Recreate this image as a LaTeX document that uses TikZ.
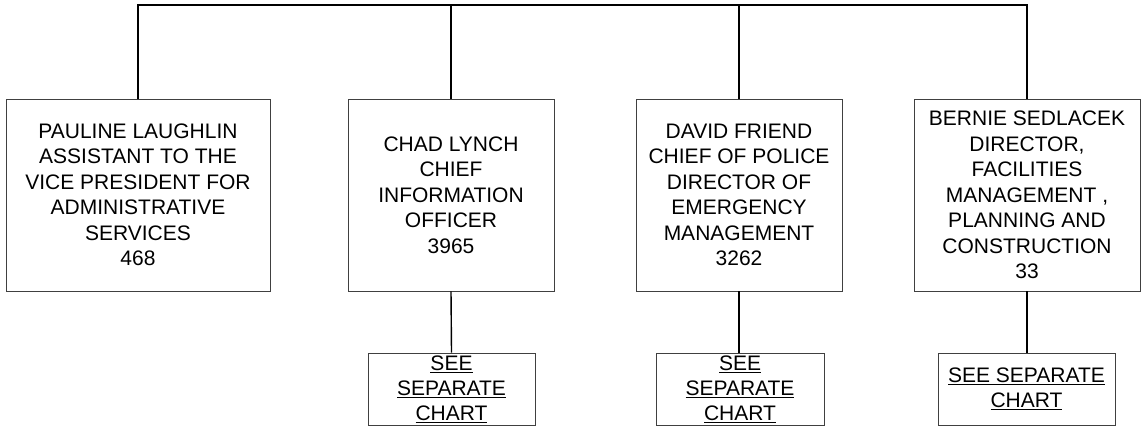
\documentclass[tikz,border=0pt]{standalone}
\usepackage{fontspec}
\setmainfont{Liberation Sans}

\tikzset{
	person/.style={draw=black!75,line width=0.8pt,align=center,inner sep=0,minimum height=192pt,font=\fontsize{21}{25.5}\selectfont},
	chart/.style={draw=black!75,line width=0.8pt,align=center,inner sep=0,minimum height=72pt,font=\fontsize{21}{25}\selectfont},
	link/.style={line width=1.4pt}
}

\begin{document}
\begin{tikzpicture}[x=1pt,y=-1pt]
	\useasboundingbox (0,0) rectangle (1142,426);
	\node[person,minimum width=264pt] (1) at (138,195) {PAULINE LAUGHLIN\\ASSISTANT TO THE\\VICE PRESIDENT FOR\\ADMINISTRATIVE\\SERVICES\\468};
	\node[person,minimum width=206pt] (2) at (451,195) {CHAD LYNCH\\CHIEF\\INFORMATION\\OFFICER\\3965};
	\node[person,minimum width=206pt] (3) at (739,195) {DAVID FRIEND\\CHIEF OF POLICE\\DIRECTOR OF\\EMERGENCY\\MANAGEMENT\\3262};
	\node[person,minimum width=226pt] (4) at (1027,195) {BERNIE SEDLACEK\\DIRECTOR,\\FACILITIES\\MANAGEMENT ,\\PLANNING AND\\CONSTRUCTION\\33};
	\node[chart,minimum width=167pt] (5) at (451.5,389) {\underline{SEE}\\\underline{SEPARATE}\\\underline{CHART}};
	\node[chart,minimum width=168pt] (6) at (740,389) {\underline{SEE}\\\underline{SEPARATE}\\\underline{CHART}};
	\node[chart,minimum width=177pt] (7) at (1026.5,389) {\underline{SEE SEPARATE}\\\underline{CHART}};
	\coordinate (bus) at (0,5);
	\draw[link,line width=2pt] (1.north) |- (bus -| 4.north) -- (4.north);
	\draw[link] (2.north) -- (2.north |- bus);
	\draw[link] (3.north) -- (3.north |- bus);
	\draw[link] (2.south) -- (5.north);
	\draw[link] (3.south) -- (3.south |- 6.north);
	\draw[link] (4.south) -- (4.south |- 7.north);
\end{tikzpicture}
\end{document}
